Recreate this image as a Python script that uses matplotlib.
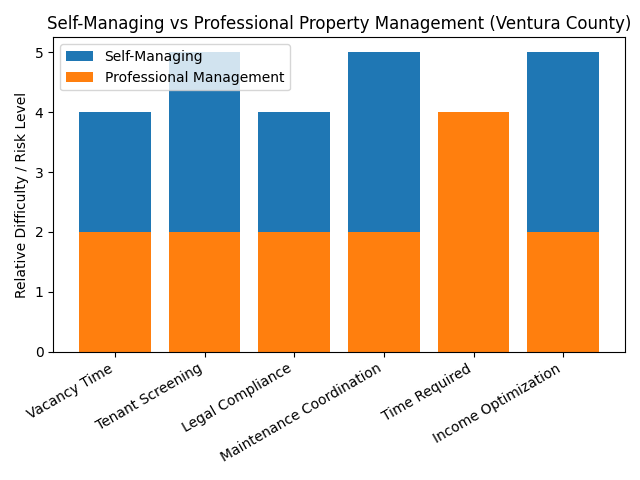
import numpy as np
import matplotlib.pyplot as plt

# Data
categories = ['Vacancy Time', 'Tenant Screening', 'Legal Compliance',
              'Maintenance Coordination', 'Time Required', 'Income Optimization']
self_managing = [4, 5, 4, 5, 1, 5]
professional = [2, 2, 2, 2, 4, 2]

fig, ax = plt.subplots(figsize=(6.4, 4.8), dpi=100)

x = np.arange(len(categories))
ax.bar(x, self_managing, label='Self-Managing', color='#1f77b4')
ax.bar(x, professional, label='Professional Management', color='#ff7f0e')

ax.set_xticks(x)
ax.set_xticklabels(categories, rotation=30, ha='right')
ax.set_ylabel('Relative Difficulty / Risk Level')
ax.set_title('Self-Managing vs Professional Property Management (Ventura County)')
ax.legend(loc='upper left')

plt.tight_layout()
plt.savefig('out.png')
